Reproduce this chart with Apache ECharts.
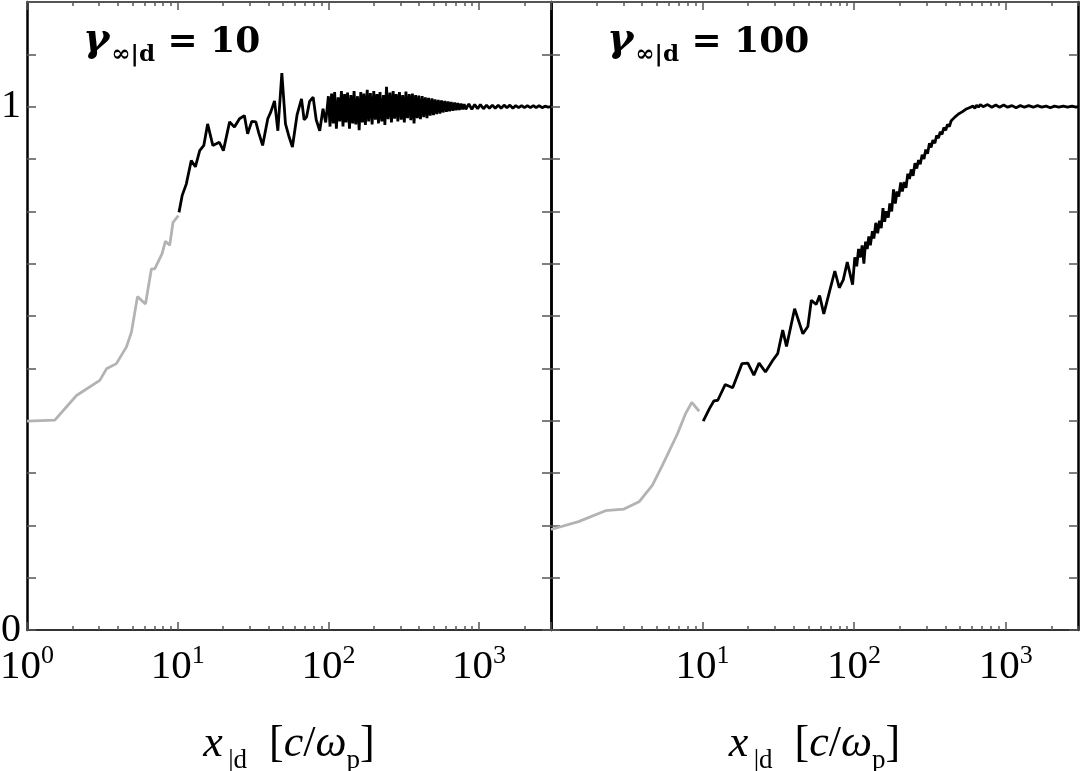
<!DOCTYPE html>
<html>
<head>
<meta charset="utf-8">
<style>
  html, body { margin: 0; padding: 0; background: #fff; }
  #main { width: 1082px; height: 771px; }
</style>
<script src="https://cdn.jsdelivr.net/npm/echarts@6/dist/echarts.min.js"></script>
</head>
<body>
<div id="main"></div>
<script>
// panel titles (gamma value of each run)
const panelGammas = ['10', '100'];

// x tick labels (log axis) and minor tick positions
const leftMajorTicks = [1, 10, 100, 1000];
const rightMajorTicks = [10, 100, 1000];
const minorTicks = [2, 3, 4, 5, 6, 7, 8, 9, 20, 30, 40, 50, 60, 70, 80, 90,
  200, 300, 400, 500, 600, 700, 800, 900, 2000, 3000];
const yLabelValues = [0, 1];

// left panel, gamma = 10 : grey early part, black later part
const leftGray = [
  [1.0, 0.399], [1.53, 0.401], [2.13, 0.448], [3.04, 0.477], [3.37, 0.499],
  [3.92, 0.509], [4.57, 0.541], [4.93, 0.569], [5.41, 0.637], [6.11, 0.623],
  [6.69, 0.690], [7.04, 0.690], [7.88, 0.719], [8.29, 0.743], [8.85, 0.735],
  [9.31, 0.779], [10.1, 0.792]
];
const leftBlack = [
  [10.2, 0.798], [10.7, 0.830], [11.4, 0.852], [12.3, 0.897], [13.1, 0.885],
  [14.0, 0.916], [14.9, 0.926], [15.8, 0.967], [17.1, 0.926], [18.9, 0.932],
  [20.1, 0.916], [22.1, 0.971], [23.8, 0.961], [25.7, 0.977], [27.7, 0.983],
  [29.1, 0.948], [31.0, 0.972], [33.0, 0.971], [34.5, 0.950], [36.6, 0.926],
  [39.6, 0.977], [41.5, 0.990], [43.9, 1.011], [46.2, 0.954], [49.1, 1.064],
  [51.9, 0.967], [54.5, 0.945], [57.7, 0.923], [62.0, 0.985], [66.3, 1.015],
  [69.0, 0.975], [71.6, 0.980], [75.0, 1.010], [79.2, 1.018], [83.0, 0.975],
  [87.6, 0.954], [92.1, 0.996], [96.0, 0.970],
  [100, 1.020], [102.5, 0.962], [105, 1.025], [107.7, 0.968], [110, 1.028],
  [113, 0.958], [116, 1.018], [119, 0.972], [122, 1.030], [125, 0.962],
  [128, 1.024], [131, 0.970], [134, 1.027], [138, 0.958], [141, 1.022],
  [145, 0.968], [148, 1.030], [152, 0.966], [156, 1.020], [160, 0.955],
  [164, 1.028], [168, 0.970], [172, 1.025], [176, 0.965], [181, 1.032],
  [185, 0.972], [190, 1.026], [195, 0.966], [200, 1.030], [205, 0.975],
  [210, 1.024], [215, 0.968], [220, 1.028], [226, 0.972], [232, 1.022],
  [237, 0.965], [243, 1.038], [249, 0.976], [256, 1.027], [262, 0.970],
  [269, 1.030], [275, 0.977], [282, 1.024], [289, 0.972], [296, 1.028],
  [304, 0.975], [311, 1.022], [319, 0.970], [327, 1.029], [335, 0.978],
  [344, 1.024], [352, 0.974], [361, 1.025], [370, 0.968], [379, 1.022],
  [389, 0.978], [398, 1.021], [408, 0.976], [419, 1.020], [429, 0.980],
  [440, 1.018], [451, 0.978], [462, 1.017], [474, 0.983], [486, 1.016],
  [498, 0.984], [510, 1.014], [523, 0.986], [536, 1.013], [550, 0.987],
  [563, 1.012], [577, 0.989], [592, 1.011], [607, 0.990], [622, 1.010],
  [637, 0.991], [653, 1.009], [670, 0.992], [687, 1.008], [704, 0.993],
  [721, 1.007], [739, 0.994], [758, 1.006], [777, 0.995], [796, 1.005],
  [816, 0.995], [855, 1.005], [895, 0.995], [935, 1.004], [978, 0.996],
  [1020, 1.004], [1070, 0.996], [1120, 1.003], [1170, 0.997], [1225, 1.003],
  [1280, 0.997], [1340, 1.003], [1400, 0.997], [1465, 1.003], [1530, 0.998],
  [1600, 1.003], [1675, 0.997], [1750, 1.002], [1830, 0.998], [1915, 1.002],
  [2000, 0.998], [2090, 1.002], [2190, 0.998], [2290, 1.002], [2390, 0.998],
  [2500, 1.002], [2620, 0.998], [2740, 1.001], [2870, 0.999], [3000, 1.000]
];

// right panel, gamma = 100
const rightGray = [
  [1.0, 0.192], [1.52, 0.207], [2.29, 0.228], [3.03, 0.231], [3.81, 0.245],
  [4.67, 0.277], [5.44, 0.315], [6.83, 0.375], [7.74, 0.414], [8.49, 0.435],
  [9.5, 0.418]
];
const rightBlack = [
  [10.1, 0.399], [11.1, 0.423], [11.9, 0.438], [12.6, 0.439], [14.1, 0.469],
  [15.8, 0.463], [18.2, 0.509], [19.9, 0.510], [21.8, 0.487], [23.6, 0.510],
  [26.0, 0.493], [29.0, 0.515], [31.3, 0.528], [33.8, 0.573], [35.8, 0.542],
  [40.5, 0.614], [45.9, 0.566], [49.5, 0.580], [52.2, 0.630], [56.2, 0.622],
  [59.2, 0.639], [63.1, 0.604], [69.1, 0.649], [74.6, 0.686], [79.8, 0.654],
  [84.8, 0.669], [90.1, 0.703], [97.7, 0.660],
  [101, 0.712], [104, 0.695], [107, 0.728], [110, 0.712], [113, 0.735],
  [116, 0.700], [119, 0.742], [122, 0.728], [125, 0.752], [128, 0.735],
  [132, 0.762], [135, 0.748], [139, 0.778], [143, 0.758], [147, 0.782],
  [151, 0.768], [155, 0.806], [159, 0.780], [163, 0.800], [168, 0.788],
  [172, 0.815], [177, 0.800], [182, 0.842], [187, 0.815], [192, 0.838],
  [197, 0.828], [203, 0.855], [208, 0.838], [214, 0.856], [220, 0.845],
  [226, 0.872], [232, 0.862], [238, 0.880], [245, 0.868], [252, 0.892],
  [259, 0.882], [266, 0.898], [273, 0.890], [281, 0.908], [289, 0.900],
  [297, 0.918], [305, 0.910], [314, 0.930], [322, 0.922], [331, 0.936],
  [341, 0.930], [350, 0.945], [360, 0.940], [370, 0.952], [380, 0.947],
  [391, 0.960], [402, 0.955], [413, 0.966], [425, 0.962], [437, 0.973],
  [449, 0.970], [462, 0.980], [475, 0.977], [488, 0.986], [502, 0.983],
  [516, 0.990], [530, 0.988], [545, 0.995], [560, 0.992], [576, 0.998],
  [592, 0.995], [609, 1.001], [626, 0.997], [643, 1.003], [661, 0.999],
  [680, 1.004], [710, 1.000], [760, 1.004], [810, 0.999], [860, 1.003],
  [912, 0.999], [970, 1.003], [1030, 0.999], [1100, 1.002], [1170, 0.998],
  [1250, 1.002], [1330, 0.999], [1420, 1.002], [1520, 0.999], [1620, 1.002],
  [1730, 0.999], [1850, 1.001], [1970, 0.998], [2100, 1.001], [2240, 0.999],
  [2400, 1.001], [2560, 0.999], [2740, 1.001], [2900, 0.999], [3000, 1.000]
];

const serif = 'Liberation Serif';
const titleFont = 'DejaVu Serif';
const tickColor = '#555';

// rich styles for the tick labels (10^n) and the axis name
const richText = {
  b: { fontFamily: serif, fontSize: 41, color: '#000', verticalAlign: 'bottom', lineHeight: 46 },
  s: { fontFamily: serif, fontSize: 26, color: '#000', verticalAlign: 'bottom', lineHeight: 46, padding: [0, 0, 19, 0] },
  i: { fontFamily: serif, fontSize: 44, fontStyle: 'italic', color: '#000', verticalAlign: 'bottom', lineHeight: 48, padding: [0, 0, 8, 0] },
  n: { fontFamily: serif, fontSize: 44, color: '#000', verticalAlign: 'bottom', lineHeight: 48, padding: [0, 0, 8, 0] },
  d: { fontFamily: serif, fontSize: 27, color: '#000', verticalAlign: 'bottom', lineHeight: 48 }
};
const axisName = '{i|x}{d|\u2009|d}{n|  [}{i|c}{n|/}{i|\u03c9}{d|p}{n|]}';

function xAxisFor (grid, pos, ticks, len, labels, showLine) {
  return {
    type: 'log',
    logBase: 10,
    gridIndex: grid,
    position: pos,
    min: 1,
    max: 3000,
    axisLine: { show: showLine, onZero: false, lineStyle: { color: pos === 'bottom' ? '#333' : '#555', width: 2 } },
    axisTick: { show: true, inside: true, length: len, customValues: ticks, lineStyle: { color: tickColor, width: 1.5 } },
    axisLabel: labels ? {
      show: true,
      customValues: labels,
      margin: 12,
      formatter: function (v) {
        return '{b|10}{s|' + Math.round(Math.log10(v)) + '}'
      },
      rich: richText
    } : { show: false },
    name: labels ? axisName : '',
    nameLocation: 'middle',
    nameGap: 96,
    nameTextStyle: { rich: richText },
    splitLine: { show: false },
    minorTick: { show: false },
    minorSplitLine: { show: false }
  }
}

function yAxisFor (grid, pos, labels, lineColor) {
  return {
    type: 'value',
    gridIndex: grid,
    position: pos,
    min: 0,
    max: 1.2,
    interval: 0.1,
    axisLine: { show: true, lineStyle: { color: lineColor, width: 2.5 } },
    axisTick: { show: true, inside: true, length: 9, lineStyle: { color: tickColor, width: 1.5 } },
    axisLabel: labels ? {
      show: true,
      customValues: labels,
      margin: 6,
      fontFamily: serif,
      fontSize: 40,
      color: '#000'
    } : { show: false },
    splitLine: { show: false }
  }
}

function titleFor (left, gamma) {
  return {
    left: left,
    top: 16,
    text: '{g|\u03b3}{s|\u221e|d}{e| = ' + gamma + '}',
    textStyle: {
      fontFamily: titleFont,
      rich: {
        g: { fontFamily: titleFont, fontSize: 40, fontWeight: 'bold', fontStyle: 'italic', color: '#000', verticalAlign: 'bottom', lineHeight: 46, padding: [0, 2, 6, 0] },
        s: { fontFamily: titleFont, fontSize: 23, fontWeight: 'bold', color: '#000', verticalAlign: 'bottom', lineHeight: 46 },
        e: { fontFamily: titleFont, fontSize: 36, fontWeight: 'bold', color: '#000', verticalAlign: 'bottom', lineHeight: 46, padding: [0, 0, 6, 0] }
      }
    }
  }
}

function lineSeries (data, color, xi, yi) {
  return {
    type: 'line',
    data: data,
    xAxisIndex: xi,
    yAxisIndex: yi,
    showSymbol: false,
    symbol: 'none',
    smooth: false,
    lineStyle: { color: color, width: 2.8 },
    z: 3
  }
}

let myChart = echarts.init(document.getElementById('main'))
myChart.setOption({
  animation: false,
  backgroundColor: '#fff',
  title: [titleFor(78, panelGammas[0]), titleFor(602, panelGammas[1])],
  grid: [
    { left: 27, top: 2, width: 524, height: 628, outerBoundsMode: 'none', containLabel: false },
    { left: 551, top: 2, width: 527, height: 628, outerBoundsMode: 'none', containLabel: false }
  ],
  xAxis: [
    xAxisFor(0, 'bottom', leftMajorTicks, 8, leftMajorTicks, true),
    xAxisFor(0, 'bottom', minorTicks, 4, null, false),
    xAxisFor(0, 'top', leftMajorTicks, 8, null, true),
    xAxisFor(0, 'top', minorTicks, 4, null, false),
    xAxisFor(1, 'bottom', leftMajorTicks, 8, rightMajorTicks, true),
    xAxisFor(1, 'bottom', minorTicks, 4, null, false),
    xAxisFor(1, 'top', leftMajorTicks, 8, null, true),
    xAxisFor(1, 'top', minorTicks, 4, null, false)
  ],
  yAxis: [
    yAxisFor(0, 'left', yLabelValues, '#000'),
    yAxisFor(0, 'right', null, '#000'),
    yAxisFor(1, 'left', null, '#000'),
    yAxisFor(1, 'right', null, '#000')
  ],
  series: [
    lineSeries(leftGray, '#b3b3b3', 0, 0),
    lineSeries(leftBlack, '#000', 0, 0),
    lineSeries(rightGray, '#b3b3b3', 4, 2),
    lineSeries(rightBlack, '#000', 4, 2)
  ]
})
</script>
</body>
</html>
